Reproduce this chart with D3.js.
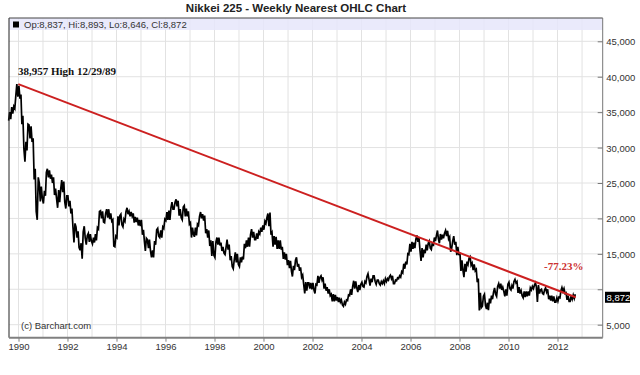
<!DOCTYPE html>
<html lang="en">
<head>
  <meta charset="UTF-8">
  <title>Nikkei 225 - Weekly Nearest OHLC Chart</title>
  <script src="https://cdn.jsdelivr.net/npm/d3@7"></script>
  <style>
    body { margin: 0; background: #fff; }
    svg { display: block; font-family: Arial, "Liberation Sans", sans-serif; }
  </style>
</head>
<body>
<script>
  // monthly high / low, Aug 1989 .. Sep 2012
  const firstMonth = new Date(1989, 7, 1);
  const highs = [
    35000, 35700, 35800, 37300, 38957,
    38700, 37500, 34500, 30800, 33300, 33200, 33000, 31300, 27000, 25800, 25000, 24500,
    23900, 26500, 27000, 26800, 26200, 25800, 24200, 24000, 24100, 25400, 25200, 23200,
    23200, 22500, 21400, 19300, 18800, 18200, 16500, 18100, 18900, 17600, 17900, 17800,
    17300, 17800, 18700, 21000, 21100, 21000, 20700, 21300, 21300, 20700, 19800, 17500,
    20300, 20400, 20600, 19900, 21000, 21500, 21000, 20900, 20700, 20200, 20100, 19800,
    19800, 18400, 17200, 17000, 17000, 15500, 16800, 18400, 18600, 18300, 18800, 19900,
    20900, 21100, 21500, 22300, 22300, 22700, 22500, 21300, 21600, 21800, 21400, 21000,
    19400, 18700, 18700, 19200, 20300, 20900, 20600, 20400, 18500, 18300, 16900, 16800,
    16700, 17300, 17300, 16600, 16000, 15900, 17000, 16300, 14700, 14200, 15200, 15000,
    14500, 14600, 16400, 16900, 17300, 17700, 18500, 18100, 17900, 18100, 18700, 19000,
    19600, 20100, 20700, 20833, 18000, 17500, 17400, 16900, 16900, 16000, 15200, 15000,
    14100, 14000, 13300, 14100, 14500, 13600, 13100, 12000, 11000, 10900, 10900, 10900,
    10900, 10700, 11900, 11700, 11900, 11700, 10800, 10300, 10000, 9300, 9300, 9200,
    8900, 8800, 8500, 8200, 8500, 9200, 10000, 10400, 11200, 11100, 10600, 10700,
    11000, 11100, 11800, 12200, 11500, 11900, 11900, 11300, 11300, 11100, 11200, 11500,
    11500, 11800, 12000, 11900, 11300, 11600, 11900, 12500, 13600, 13900, 15000, 16400,
    16700, 16600, 17100, 17600, 17300, 15800, 15600, 16300, 16500, 16800, 16600, 17300,
    17600, 18300, 17800, 17700, 17900, 18300, 18262, 17400, 16800, 17500, 16700, 16000,
    15200, 14100, 13600, 13900, 14400, 14600, 13700, 13500, 12800, 11500, 9500, 9000,
    9300, 8100, 8700, 9100, 9600, 10200, 10400, 10800, 10800, 10300, 10000, 10700,
    11000, 10500, 11100, 11400, 11100, 10300, 9800, 9700, 9700, 9700, 10200, 10400,
    10600, 10900, 10600, 9900, 10000, 9900, 10200, 10000, 9100, 9100, 9000, 8800,
    8900, 9800, 10250, 10100, 9500, 9100, 9100, 9200, 9300
  ];
  const lows = [
    33800, 34000, 34800, 35500, 37200,
    36900, 33300, 29800, 28000, 29600, 31300, 30800, 25500, 21000, 19800, 22400, 22800,
    22100, 23200, 25800, 25600, 25000, 23300, 22800, 21500, 22300, 23700, 22300, 21400,
    21700, 20700, 18800, 16600, 17300, 15900, 15500, 14300, 17200, 16300, 16700, 16800,
    16400, 16600, 16900, 18500, 20000, 19500, 19400, 20100, 19900, 19600, 16100, 16000,
    17300, 19000, 19100, 18800, 19600, 20600, 20300, 20300, 19400, 19500, 19000, 18900,
    17700, 16800, 15400, 15800, 15400, 14500, 14485, 16300, 17500, 17300, 17300, 18600,
    19700, 19800, 19800, 21300, 21300, 21700, 20400, 20100, 19800, 20300, 20300, 19200,
    17300, 17800, 17400, 17600, 19000, 20000, 19700, 17900, 17300, 16100, 14700, 14800,
    14500, 16300, 16200, 15400, 15100, 14900, 15600, 14100, 13200, 12900, 13800, 13500,
    13200, 13800, 14200, 15800, 16000, 16000, 17300, 17000, 17000, 17100, 17800, 18100,
    18400, 19300, 18900, 17700, 16000, 16300, 15700, 15700, 15600, 14300, 14200, 13400,
    13000, 12600, 11800, 12700, 13200, 12600, 11700, 10700, 9400, 9800, 10100, 10000,
    9900, 9400, 10600, 10900, 11300, 10100, 9800, 9400, 9100, 8300, 8300, 8400,
    8200, 8200, 7800, 7600, 7900, 8400, 9100, 9200, 10100, 10200, 9600, 9900,
    10400, 10300, 10900, 11400, 10500, 11000, 11100, 10700, 10800, 10600, 10800, 10800,
    11100, 11300, 11500, 10800, 10800, 11200, 11500, 11700, 12300, 12900, 13500, 14900,
    15300, 15700, 15800, 16700, 15400, 14000, 14500, 15100, 15500, 15800, 15600, 16100,
    16800, 17100, 16500, 17000, 17200, 17500, 17100, 15300, 15800, 16300, 14800, 14800,
    12600, 12700, 11700, 12500, 13500, 13400, 12700, 12600, 11000, 7000, 7400, 7600,
    7700, 7200, 7050, 8000, 8600, 9300, 9000, 10100, 9900, 9700, 9000, 9100,
    10100, 9900, 10100, 10900, 9500, 9400, 9100, 8800, 8900, 9000, 9100, 9900,
    10100, 10300, 8200, 9400, 9400, 9300, 9600, 8600, 8400, 8300, 8200, 8200,
    8300, 8800, 9700, 9400, 8500, 8300, 8300, 8600, 8700
  ];

  const yTicks = [5000, 10000, 15000, 20000, 25000, 30000, 35000, 40000, 45000];
  const gridYears = d3.range(1990, 2014);
  const labelYears = [1990, 1992, 1994, 1996, 1998, 2000, 2002, 2004, 2006, 2008, 2010, 2012];
  const legendText = "Op:8,837, Hi:8,893, Lo:8,646, Cl:8,872";
  const lastClose = 8872;
  const peak = { date: new Date(1989, 11, 29), value: 38957 };
  const lastDate = new Date(2012, 8, 28);

  const w = 640, h = 375;
  const plotLeft = 9, plotRight = 602.7, plotTop = 18, plotBottom = 337.7;

  const x = d3.scaleTime()
    .domain([new Date(1990, 0, 1), new Date(2012, 0, 1)])
    .range([18.5, 557.5]);
  const y = d3.scaleLinear()
    .domain([5000, 45000])
    .range([324.7, 41.3]);

  const svg = d3.select("body").append("svg")
    .attr("width", w)
    .attr("height", h);

  // title
  svg.append("text")
    .attr("x", 296).attr("y", 11.5)
    .attr("text-anchor", "middle")
    .style("font-size", "11.5px").style("font-weight", "bold")
    .attr("fill", "#222")
    .text("Nikkei 225 - Weekly Nearest OHLC Chart");

  // grid
  svg.append("g").selectAll("line")
    .data(gridYears).enter().append("line")
    .attr("x1", d => x(new Date(d, 0, 1))).attr("x2", d => x(new Date(d, 0, 1)))
    .attr("y1", plotTop).attr("y2", plotBottom)
    .attr("stroke", "#e2e2e2").attr("stroke-width", 1);
  svg.append("g").selectAll("line")
    .data(yTicks).enter().append("line")
    .attr("x1", plotLeft).attr("x2", plotRight)
    .attr("y1", d => y(d)).attr("y2", d => y(d))
    .attr("stroke", "#e2e2e2").attr("stroke-width", 1);

  // legend band
  svg.append("rect")
    .attr("x", plotLeft).attr("y", plotTop)
    .attr("width", plotRight - plotLeft).attr("height", 12)
    .attr("fill", "#e6e6fa").attr("opacity", 0.85);
  svg.append("rect")
    .attr("x", 13).attr("y", 21.5).attr("width", 6).attr("height", 6)
    .attr("fill", "#000");
  svg.append("text")
    .attr("x", 24).attr("y", 28)
    .style("font-size", "9.5px").attr("fill", "#333")
    .text(legendText);

  // price trace: zig-zag through each month's low and high
  const bars = highs.map((hi, i) => ({
    date: d3.timeMonth.offset(firstMonth, i),
    hi: hi,
    lo: lows[i]
  }));
  const pts = [];
  bars.forEach((d, i) => {
    const x0 = x(d.date);
    const mw = x(d3.timeMonth.offset(d.date, 1)) - x0;
    const next = bars[i + 1];
    const up = next ? (next.hi + next.lo) > (d.hi + d.lo) : true;
    const a = up ? d.lo : d.hi;
    const b = up ? d.hi : d.lo;
    pts.push([x0 + mw * 0.2, a]);
    pts.push([x0 + mw * 0.7, b]);
  });
  const trace = d3.line()
    .x(d => d[0])
    .y(d => y(d[1]));
  svg.append("path")
    .attr("d", trace(pts))
    .attr("fill", "none")
    .attr("stroke", "#000")
    .attr("stroke-width", 1.7)
    .attr("stroke-linejoin", "miter");

  // trend line
  svg.append("line")
    .attr("x1", x(peak.date)).attr("y1", y(peak.value))
    .attr("x2", x(lastDate)).attr("y2", y(lastClose))
    .attr("stroke", "#cc2020").attr("stroke-width", 2);

  // frame
  svg.append("line")
    .attr("x1", plotLeft).attr("x2", plotLeft).attr("y1", plotTop).attr("y2", plotBottom)
    .attr("stroke", "#222");
  svg.append("line")
    .attr("x1", plotLeft).attr("x2", plotRight).attr("y1", plotTop).attr("y2", plotTop)
    .attr("stroke", "#444");

  // right axis
  const yAxis = d3.axisLeft(y)
    .tickValues(yTicks)
    .tickSize(5)
    .tickFormat("");
  const ga = svg.append("g")
    .attr("transform", `translate(${plotRight},0)`)
    .call(yAxis);
  ga.select(".domain").attr("stroke", "#777").attr("d", `M0,${plotTop}V${plotBottom}`);
  ga.selectAll(".tick line").attr("stroke", "#777");
  svg.append("g").selectAll("text")
    .data(yTicks.filter(d => Math.abs(y(d) - y(lastClose)) > 10))
    .enter().append("text")
    .attr("x", plotRight + 3.5).attr("y", d => y(d) + 4)
    .style("font-size", "9.5px").attr("fill", "#333")
    .text(d => d3.format(",")(d));

  // bottom axis
  const xAxis = d3.axisBottom(x)
    .tickValues(labelYears.map(d => new Date(d, 0, 1)))
    .tickSize(4)
    .tickFormat(d3.timeFormat("%Y"));
  const gx = svg.append("g")
    .attr("transform", `translate(0,${plotBottom})`)
    .call(xAxis);
  gx.select(".domain").attr("d", `M${plotLeft},0H${plotRight}`)
    .attr("stroke", "#808080").attr("stroke-width", 2);
  gx.selectAll(".tick line").attr("stroke", "#808080");
  gx.selectAll(".tick text")
    .attr("y", 6).attr("dy", "0.71em")
    .style("font-size", "9.5px").style("font-family", "Arial, 'Liberation Sans', sans-serif")
    .attr("fill", "#333");

  // last value box
  svg.append("rect")
    .attr("x", 605).attr("y", y(lastClose) - 5.5)
    .attr("width", 25).attr("height", 11)
    .attr("fill", "#000");
  svg.append("text")
    .attr("x", 606.5).attr("y", y(lastClose) + 3.5)
    .style("font-size", "9.5px").attr("fill", "#fff")
    .text(d3.format(",")(lastClose));

  // annotations
  svg.append("text")
    .attr("x", 18).attr("y", 75)
    .style("font-family", "'Liberation Serif', 'Times New Roman', serif")
    .style("font-size", "11px").style("font-weight", "bold")
    .attr("fill", "#111")
    .text("38,957 High 12/29/89");
  svg.append("text")
    .attr("x", 544).attr("y", 269.5)
    .style("font-family", "'Liberation Serif', 'Times New Roman', serif")
    .style("font-size", "11px").style("font-weight", "bold")
    .attr("fill", "#cc3030")
    .text("-77.23%");
  svg.append("text")
    .attr("x", 21).attr("y", 329)
    .style("font-size", "9.5px").attr("fill", "#333")
    .text("(c) Barchart.com");
</script>
</body>
</html>
